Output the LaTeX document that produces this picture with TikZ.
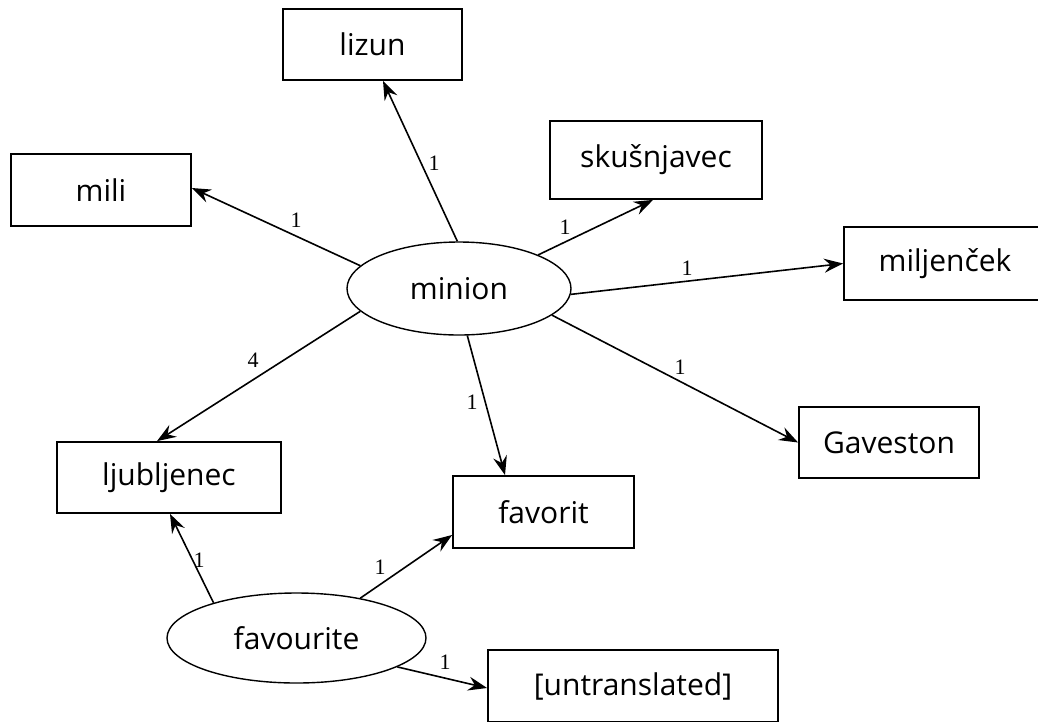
\documentclass[tikz,border=0pt]{standalone}
\usepackage{fontspec}
\setmainfont{Open Sans}
\newfontfamily\labfont{Liberation Serif}
\usetikzlibrary{arrows.meta,shapes.geometric}
\tikzset{
  wbox/.style={draw, line width=1.8pt, rectangle, inner sep=0pt, font=\fontsize{30}{33}\selectfont},
  wellip/.style={draw, line width=1.4pt, ellipse, inner sep=0pt, font=\fontsize{30}{33}\selectfont},
  arr/.style={line width=1.6pt, -{Stealth[length=19pt,width=14pt,inset=6.5pt]}},
  wlab/.style={inner sep=0pt, font=\labfont\fontsize{22}{24}\selectfont}
}
\begin{document}
\begin{tikzpicture}[x=1pt,y=-1pt]
\useasboundingbox (0,0) rectangle (1038,721);
% nodes
\node[wellip, minimum width=224pt, minimum height=93pt] (minion) at (459,288.5) {minion};
\node[wellip, minimum width=259pt, minimum height=90pt] (favourite) at (296.5,638) {favourite};
\node[wbox, minimum width=179pt, minimum height=71pt] (lizun) at (372.5,44.5) {lizun};
\node[wbox, minimum width=180pt, minimum height=72pt] (mili) at (101,190) {mili};
\node[wbox, minimum width=212pt, minimum height=78pt] (skus) at (656,160) {skušnjavec};
\node[wbox, minimum width=202pt, minimum height=73pt] (milj) at (945,263.5) {miljenček};
\node[wbox, minimum width=180pt, minimum height=71pt] (gav) at (889,442.5) {Gaveston};
\node[wbox, minimum width=224pt, minimum height=71pt] (lju) at (169,477.5) {ljubljenec};
\node[wbox, minimum width=181pt, minimum height=72pt] (fav) at (543.5,512) {favorit};
\node[wbox, minimum width=290pt, minimum height=72pt] (unt) at (633,686) {[untranslated]};
% connectors
\draw[arr] (minion.92) -- ([xshift=10.5pt]lizun.south);
\draw[arr] (minion.167.4) -- ([yshift=2pt]mili.east);
\draw[arr] (minion.23.7) -- ([xshift=-3pt]skus.south);
\draw[arr] (minion.357.7) -- (milj.west);
\draw[arr] (minion.344.2) -- (gav.west);
\draw[arr] (minion.193.9) -- ([xshift=-12pt]lju.north);
\draw[arr] (minion.280.7) -- ([xshift=-38.5pt]fav.north);
\draw[arr] (favourite.157) -- ([xshift=1pt]lju.south);
\draw[arr] (favourite.32.9) -- ([yshift=-23pt]fav.west);
\draw[arr] (favourite.344.6) -- ([yshift=-2pt]unt.west);
% labels
\node[wlab] (l1) at (434,163) {1};
\node[wlab] (l2) at (296,220) {1};
\node[wlab] (l3) at (565,227) {1};
\node[wlab] (l4) at (687,268) {1};
\node[wlab] (l5) at (680,367) {1};
\node[wlab] (l6) at (253,360) {4};
\node[wlab] (l7) at (472,402) {1};
\node[wlab] (l8) at (199,560) {1};
\node[wlab] (l9) at (380,567) {1};
\node[wlab] (l10) at (445,662) {1};
\end{tikzpicture}
\end{document}
